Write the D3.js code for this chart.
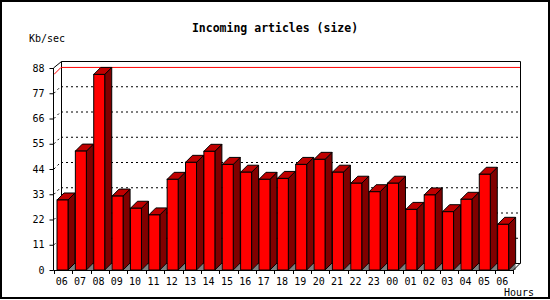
<!DOCTYPE html>
<html><head><meta charset="utf-8">
<script src="https://cdn.jsdelivr.net/npm/d3@7"></script>
<style>body{margin:0;background:#fff}svg{display:block}</style>
</head><body>
<svg id="c" width="550" height="300"></svg>
<script>
const hours = ["06","07","08","09","10","11","12","13","14","15","16","17","18","19","20","21","22","23","00","01","02","03","04","05","06"];
const values = [30.5,51.8,85.2,32.2,26.9,24.0,39.5,46.9,51.7,46.0,42.6,39.5,39.9,46.0,48.2,42.6,37.8,34.1,37.8,26.4,32.7,25.4,30.8,41.7,19.9];
const yTicks = [0,11,22,33,44,55,66,77,88];
const title = "Incoming articles (size)";
const yLabel = "Kb/sec";
const xLabel = "Hours";

const svg = d3.select("#c");
const D = 7; // depth
const x0 = 54, x1 = 513, yBase = 270, yTop = 68;
const x = d3.scaleBand().domain(d3.range(hours.length)).range([x0, x1]).paddingInner(0).paddingOuter(0);
const y = d3.scaleLinear().domain([0, 88]).range([yBase, yTop]);
const mono = "'DejaVu Sans Mono', monospace";

svg.append("rect").attr("x",1).attr("y",1).attr("width",548).attr("height",297)
  .attr("fill","#fff").attr("stroke","#000").attr("stroke-width",2);

svg.append("text").attr("x",275).attr("y",32).attr("text-anchor","middle")
  .attr("font-family",mono).attr("font-weight","bold").attr("font-size",11.5).text(title);
svg.append("text").attr("x",29).attr("y",42).attr("font-family",mono).attr("font-size",10).text(yLabel);
svg.append("text").attr("x",504).attr("y",296).attr("font-family",mono).attr("font-size",10).text(xLabel);

const g = svg.append("g");
// gridlines on back wall
const grid = g.append("g");
yTicks.filter(v => v > 0 && v < 88).forEach(v => {
  grid.append("line").attr("x1",x0).attr("y1",y(v)).attr("x2",x0+D).attr("y2",y(v)-D)
    .attr("stroke","#000").attr("stroke-dasharray","2,3");
  grid.append("line").attr("x1",x0+D).attr("y1",y(v)-D+0.5).attr("x2",x1+D).attr("y2",y(v)-D+0.5)
    .attr("stroke","#000").attr("stroke-dasharray","2,3");
});
// back wall frame
g.append("path").attr("fill","none").attr("stroke","#000").attr("stroke-width",1)
  .attr("d",`M${x0+D+0.5},${yBase-D}V${yTop-D+0.5}H${x1+D+0.5}V${yBase-D}`);
g.append("path").attr("fill","none").attr("stroke","#000")
  .attr("d",`M${x0+D+0.5},${yBase-D+0.5}H${x1+D+0.5}`);
// max line
const vmax = d3.max(values);
g.append("path").attr("fill","none").attr("stroke","#f00")
  .attr("d",`M${x0},${y(vmax)}L${x0+D},${y(vmax)-D}H${x1+D}`);

// bars
const bw = 11;
const bars = g.append("g").selectAll("g").data(values).join("g");
bars.each(function(v, i) {
  const s = d3.select(this);
  const bx = x(i) + 3, bt = y(v), bb = yBase;
  // grey floor triangle
  s.append("path").attr("fill","#808080")
    .attr("d",`M${bx+bw},${bb}L${bx+bw+D},${bb-D}V${bb}Z`);
  // side
  s.append("path").attr("fill","#800000").attr("stroke","#000").attr("stroke-linejoin","miter")
    .attr("d",`M${bx+bw},${bt}L${bx+bw+D},${bt-D}V${bb-D}L${bx+bw},${bb}Z`);
  // top
  s.append("path").attr("fill","#c00000").attr("stroke","#000")
    .attr("d",`M${bx},${bt}L${bx+D},${bt-D}H${bx+bw+D}L${bx+bw},${bt}Z`);
  // front
  s.append("rect").attr("x",bx).attr("y",bt).attr("width",bw).attr("height",bb-bt)
    .attr("fill","#f00").attr("stroke","#000");
});

// front axes
g.append("path").attr("fill","none").attr("stroke","#000")
  .attr("d",`M${x0+D+0.5},${yTop-D+0.5}L${x0-0.5},${yTop}V${yBase+0.5}H${x1}L${x1+D+0.5},${yBase-D}`);

const yAxis = d3.axisLeft(y).tickValues(yTicks).tickSize(4).tickPadding(5);
const ya = svg.append("g").attr("transform",`translate(${x0-0.5},0)`).call(yAxis);
ya.select(".domain").remove();
ya.selectAll("text").attr("font-family",mono).attr("font-size",10).attr("fill","#000");
ya.selectAll("line").attr("stroke","#000");

// x boundary ticks
svg.append("g").selectAll("line").data(d3.range(hours.length + 1)).join("line")
  .attr("x1", i => Math.round(i < hours.length ? x(i) : x1) + 0.5)
  .attr("x2", i => Math.round(i < hours.length ? x(i) : x1) + 0.5)
  .attr("y1", yBase).attr("y2", yBase + 4).attr("stroke","#000");

const xAxis = d3.axisBottom(x).tickSize(0).tickPadding(8).tickFormat(i => hours[i]);
const xa = svg.append("g").attr("transform",`translate(-1.5,${yBase})`).call(xAxis);
xa.select(".domain").remove();
xa.selectAll("text").attr("font-family",mono).attr("font-size",10).attr("fill","#000");
</script>
</body></html>
